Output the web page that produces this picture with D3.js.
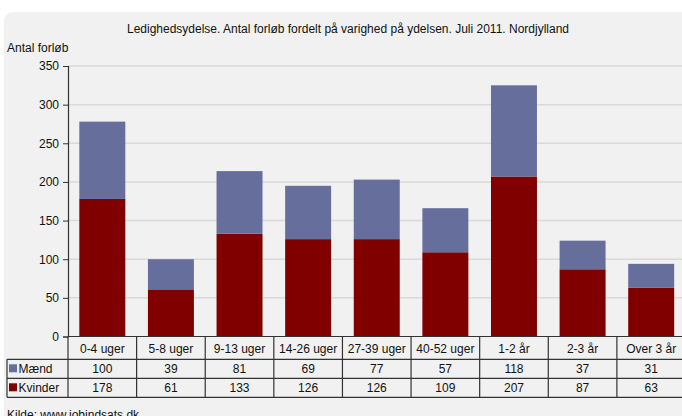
<!DOCTYPE html>
<html><head><meta charset="utf-8">
<script src="https://cdn.jsdelivr.net/npm/d3@7"></script>
<style>body{margin:0;background:#fff}svg{display:block;font-family:"Liberation Sans",Arial,sans-serif}</style>
</head><body>
<script>
const categories = ["0-4 uger","5-8 uger","9-13 uger","14-26 uger","27-39 uger","40-52 uger","1-2 år","2-3 år","Over 3 år"];
const maend = [100,39,81,69,77,57,118,37,31];
const kvinder = [178,61,133,126,126,109,207,87,63];
const seriesNames = ["Mænd","Kvinder"];
const yTicks = [0,50,100,150,200,250,300,350];
const title = "Ledighedsydelse. Antal forløb fordelt på varighed på ydelsen. Juli 2011. Nordjylland";
const yTitle = "Antal forløb";
const source = "Kilde: www.jobindsats.dk";

(function(){
const W = 682, H = 416;
const colors = {"Mænd":"#666e9c","Kvinder":"#800000"};
const svg = d3.select("body").append("svg").attr("width",W).attr("height",H);

svg.append("rect").attr("x",4).attr("y",12).attr("width",W+20).attr("height",H+20)
  .attr("rx",9).attr("fill","#f0f1f0");

const pLeft = 68, pRight = 685.5, pTop = 66, pBottom = 336.5;
const y = d3.scaleLinear().domain([0,350]).range([pBottom, pTop]);
const xCol = d3.scaleBand().domain(categories).range([pLeft,pRight]).padding(0);
const xBar = d3.scaleBand().domain(categories).range([pLeft,pRight]).paddingInner(0.33).paddingOuter(0.165);

svg.append("text").attr("x",348).attr("y",33).attr("text-anchor","middle")
  .attr("font-size",12).attr("fill","#111").text(title);
svg.append("text").attr("x",7).attr("y",52).attr("font-size",12).attr("fill","#111").text(yTitle);

svg.append("g").selectAll("line").data(yTicks.filter(d=>d>0)).join("line")
  .attr("x1",pLeft).attr("x2",W).attr("y1",d=>y(d)).attr("y2",d=>y(d))
  .attr("stroke","#d8dad8").attr("stroke-width",1.5);

const rows = categories.map((c,i)=>({cat:c,"Kvinder":kvinder[i],"Mænd":maend[i]}));
const stack = d3.stack().keys(["Kvinder","Mænd"])(rows);
svg.append("g").selectAll("g").data(stack).join("g").attr("fill",d=>colors[d.key])
  .selectAll("rect").data(d=>d).join("rect")
  .attr("x",d=>xBar(d.data.cat)).attr("width",xBar.bandwidth())
  .attr("y",d=>y(d[1])).attr("height",d=>y(d[0])-y(d[1]));

const ax = svg.append("g").attr("transform",`translate(${pLeft},0)`)
  .call(d3.axisLeft(y).tickValues(yTicks).tickSize(5).tickPadding(4));
ax.select(".domain").attr("stroke","#333").attr("stroke-width",1.2);
ax.selectAll(".tick line").attr("stroke","#333");
ax.selectAll("text").attr("font-size",12).attr("fill","#111").attr("font-family","Liberation Sans, Arial, sans-serif");

const r0 = pBottom+1.5, r1 = 359.3, r2 = 378.3, r3 = 397.3;
const tc = "#333";
const t = svg.append("g").attr("stroke",tc).attr("stroke-width",1.2);
t.append("line").attr("x1",pLeft).attr("x2",W).attr("y1",pBottom).attr("y2",pBottom);
[r1,r2,r3].forEach(yy=>t.append("line").attr("x1",7).attr("x2",W).attr("y1",yy).attr("y2",yy));
t.append("line").attr("x1",7).attr("x2",7).attr("y1",r1).attr("y2",r3);
t.append("line").attr("x1",pLeft).attr("x2",pLeft).attr("y1",pBottom).attr("y2",r3);
categories.forEach(c=>{
  const xe = xCol(c)+xCol.bandwidth();
  t.append("line").attr("x1",xe).attr("x2",xe).attr("y1",pBottom).attr("y2",r3);
});
svg.append("g").selectAll("text").data(categories).join("text")
  .attr("x",d=>xCol(d)+xCol.bandwidth()/2).attr("y",(r0+r1)/2+4.5)
  .attr("text-anchor","middle").attr("font-size",12).attr("fill","#111").text(d=>d);
[[maend,(r1+r2)/2+4.5],[kvinder,(r2+r3)/2+4.5]].forEach(([vals,yy])=>{
  svg.append("g").selectAll("text").data(vals).join("text")
    .attr("x",(d,i)=>xCol(categories[i])+xCol.bandwidth()/2).attr("y",yy)
    .attr("text-anchor","middle").attr("font-size",12).attr("fill","#111").text(d=>d);
});
seriesNames.forEach((s,i)=>{
  const yy = i===0 ? (r1+r2)/2 : (r2+r3)/2;
  svg.append("rect").attr("x",9).attr("y",yy-4.5).attr("width",8).attr("height",8).attr("fill",colors[s]);
  svg.append("text").attr("x",18.5).attr("y",yy+4.5).attr("font-size",12).attr("fill","#111").text(s);
});

svg.append("text").attr("x",7).attr("y",419).attr("font-size",12).attr("fill","#111").text(source);
})();
</script>
</body></html>
